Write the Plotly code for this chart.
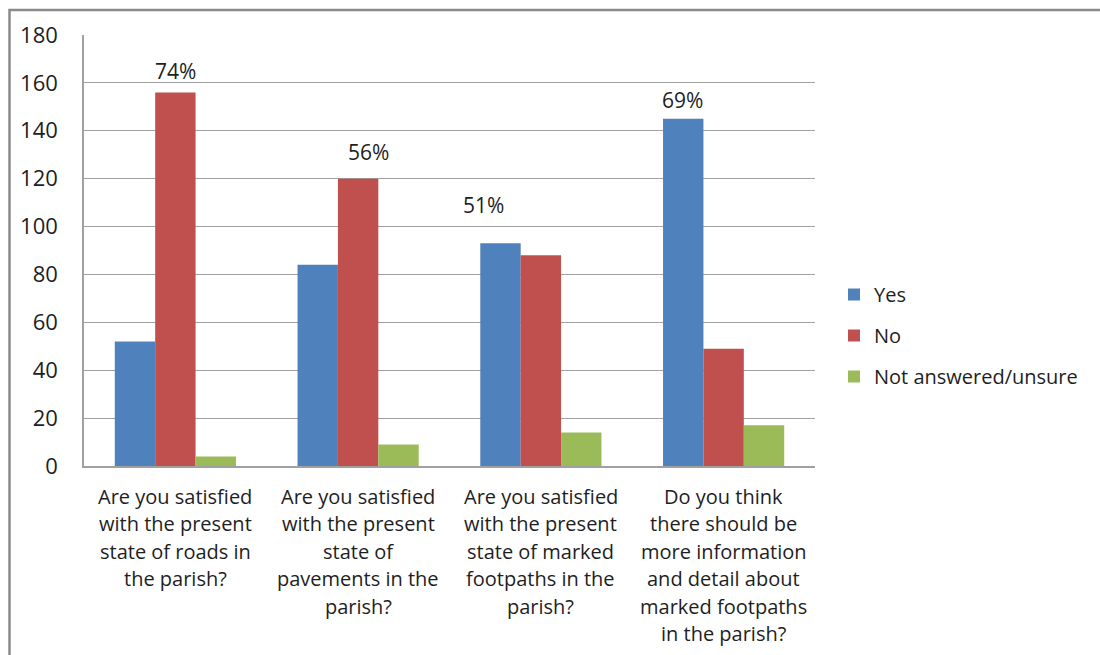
import plotly.graph_objects as go

categories = [
    "Are you satisfied with the present state of roads in the parish?",
    "Are you satisfied with the present state of pavements in the parish?",
    "Are you satisfied with the present state of marked footpaths in the parish?",
    "Do you think there should be more information and detail about marked footpaths in the parish?",
]
category_lines = [
    ["Are you satisfied", "with the present", "state of roads in", "the parish?"],
    ["Are you satisfied", "with the present", "state of", "pavements in the", "parish?"],
    ["Are you satisfied", "with the present", "state of marked", "footpaths in the", "parish?"],
    ["Do you think", "there should be", "more information", "and detail about", "marked footpaths", "in the parish?"],
]
yes_values = [52, 84, 93, 145]
no_values = [156, 120, 88, 49]
na_values = [4, 9, 14, 17]
series_names = ["Yes", "No", "Not answered/unsure"]
series_colors = ["#4F81BD", "#C0504D", "#9BBB59"]
pct_labels = ["74%", "56%", "51%", "69%"]
pct_label_y = [165, 131, 109, 153]
pct_label_xshift = [0, 10, -57, -41]

FONT = "'Open Sans', Lato, sans-serif"
TXT = "#1E1E1E"

fig = go.Figure()
for name, vals, col in zip(series_names, [yes_values, no_values, na_values], series_colors):
    fig.add_trace(go.Bar(
        x=categories, y=vals, name=name, marker=dict(color=col, line=dict(width=0)),
        legendgroup=name,
    ))

annotations = []
# percentage labels
for cat, txt, yv, xs in zip(categories, pct_labels, pct_label_y, pct_label_xshift):
    annotations.append(dict(
        x=cat, y=yv, xref="x", yref="y", text=txt, showarrow=False,
        xshift=xs, font=dict(family=FONT, size=21, color=TXT),
    ))
# category labels, one annotation per line
for cat, lines in zip(categories, category_lines):
    for i, line in enumerate(lines):
        annotations.append(dict(
            x=cat, y=0, xref="x", yref="paper", text=line, showarrow=False,
            yanchor="middle", yshift=-(30 + 27.5 * i),
            font=dict(family=FONT, size=20, color=TXT),
        ))

L, R, T, B = 84, 815, 35, 466
pw, ph = R - L, B - T


def px_x(p):
    return (p - L) / pw


def px_y(p):
    return (B - p) / ph


shapes = [
    # white box behind the 51% label
    dict(type="rect", xref="paper", yref="paper", x0=px_x(442), x1=px_x(545),
         y0=px_y(229), y1=px_y(177), fillcolor="white", line=dict(width=0), layer="below"),
    # outer chart border
    dict(type="rect", xref="paper", yref="paper", x0=px_x(9.5), x1=px_x(1110),
         y0=px_y(665), y1=px_y(10), line=dict(color="#8A8A8A", width=2.5),
         fillcolor="rgba(0,0,0,0)", layer="above"),
]

fig.update_layout(
    width=1100, height=655,
    margin=dict(l=L, r=1100 - R, t=T, b=655 - B),
    paper_bgcolor="white", plot_bgcolor="white",
    barmode="group", bargap=0.337, bargroupgap=0,
    font=dict(family=FONT, size=20, color=TXT),
    xaxis=dict(showticklabels=False, showline=True, linecolor="#A0A0A0", linewidth=2,
               ticks="", showgrid=False, zeroline=False),
    yaxis=dict(range=[0, 180], dtick=20, showgrid=True, gridcolor="#A0A0A0", gridwidth=1,
               showline=True, linecolor="#A0A0A0", linewidth=1.5, zeroline=False,
               ticks="", ticklabelstandoff=20, tickfont=dict(family=FONT, size=22, color=TXT)),
    legend=dict(x=px_x(834), y=px_y(275), xanchor="left", yanchor="top",
                font=dict(family=FONT, size=20, color=TXT),
                traceorder="grouped", tracegroupgap=12, bgcolor="rgba(0,0,0,0)"),
    annotations=annotations,
    shapes=shapes,
)

fig.write_html("out.html")
